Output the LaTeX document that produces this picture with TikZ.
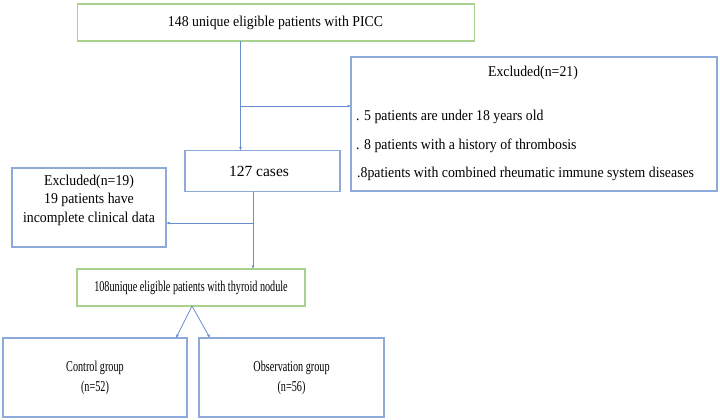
\documentclass[tikz,border=0pt]{standalone}
\usepackage{fontspec}
\setmainfont{Liberation Serif}
\usetikzlibrary{arrows.meta}
\definecolor{gbox}{HTML}{A9D18E}
\definecolor{bbox}{HTML}{8EAADB}
\definecolor{barrow}{HTML}{4472C4}
\tikzset{
  greenbox/.style={draw=gbox, line width=1.2pt, inner sep=0pt},
  bluebox/.style={draw=bbox, line width=1.1pt, inner sep=0pt},
  conn/.style={draw=barrow!80, line width=0.8pt},
  arr/.style={conn, -{Latex[length=3.5pt,width=3pt]}},
  txt/.style={font=\fontsize{15}{18.5}\selectfont, inner sep=0pt, align=center, xscale=0.92},
  bigtxt/.style={font=\fontsize{15.5}{18}\selectfont, inner sep=0pt, align=center},
  lowtxt/.style={font=\fontsize{15}{20}\selectfont, inner sep=0pt, align=center, xscale=0.68}
}
\begin{document}
\begin{tikzpicture}[x=1pt,y=-1pt]
\useasboundingbox (0,0) rectangle (720,420);
% boxes
\draw[greenbox] (77.5,4) rectangle (474.5,41);
\node[txt] (top) at (275.5,22.5) {148 unique eligible patients with PICC};
\coordinate (topb) at (240.5,41);

\draw[bluebox] (351,57) rectangle (717,191);
\coordinate (exA) at (351,106);
\node[txt] (exAh) at (533,73) {Excluded(n=21)};
\node[txt, anchor=west] (exA1) at (356,117) {. 5 patients are under 18 years old};
\node[txt, anchor=west] (exA2) at (356,146) {. 8 patients with a history of thrombosis};
\node[txt, anchor=west] (exA3) at (357,174) {.8patients with combined rheumatic immune system diseases};

\draw[bluebox] (185,150.5) rectangle (340,191.5);
\node[bigtxt] (c127) at (259,171) {127 cases};
\coordinate (c127t) at (240.5,150.5);
\coordinate (c127b) at (253,191.5);

\draw[bluebox] (12,168) rectangle (166,247);
\node[txt] (exB) at (89,200) {Excluded(n=19)\\19 patients have\\incomplete clinical data};
\coordinate (exBr) at (166,223);

\draw[greenbox] (77,269) rectangle (305,306);
\node[lowtxt] (c108) at (191,288) {108unique eligible patients with thyroid nodule};
\coordinate (c108t) at (253,269);
\coordinate (c108b) at (192,306);

\draw[bluebox] (3,338) rectangle (187,417);
\node[lowtxt] (ctrl) at (95,378) {Control group\\(n=52)};
\coordinate (ctrlt) at (176,338);

\draw[bluebox] (199,338) rectangle (384,417);
\node[lowtxt] (obs) at (291.5,378) {Observation group\\(n=56)};
\coordinate (obst) at (210,338);

% connectors
\coordinate (j1) at (240.5,106);
\coordinate (j2) at (253,223);
\draw[arr] (topb) -- (c127t);
\draw[arr] (j1) -- (exA);
\draw[arr] (c127b) -- (c108t);
\draw[arr] (j2) -- (exBr);
\draw[arr] (c108b) -- (ctrlt);
\draw[arr] (c108b) -- (obst);
\end{tikzpicture}
\end{document}
